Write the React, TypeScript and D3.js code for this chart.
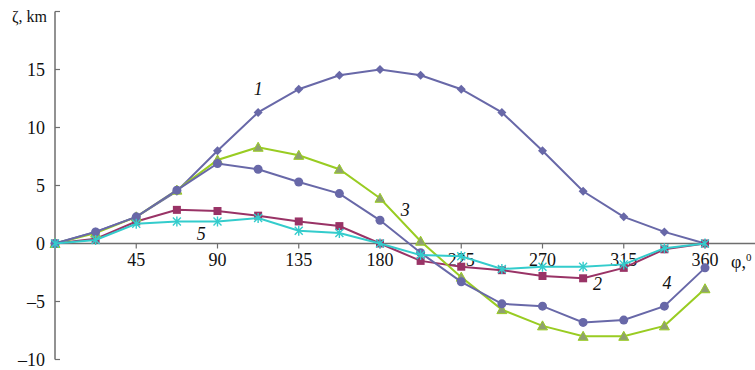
import React from "react";
import * as d3 from "d3";

const phi = [0, 22.5, 45, 67.5, 90, 112.5, 135, 157.5, 180, 202.5, 225, 247.5, 270, 292.5, 315, 337.5, 360];
const series1 = [0, 1.0, 2.3, 4.5, 8.0, 11.3, 13.3, 14.5, 15.0, 14.5, 13.3, 11.3, 8.0, 4.5, 2.3, 1.0, 0];
const series2 = [0, 0.4, 1.9, 2.9, 2.8, 2.4, 1.9, 1.5, 0, -1.5, -2.0, -2.3, -2.8, -3.0, -2.1, -0.5, 0];
const series3 = [0, 0.9, 2.3, 4.6, 7.2, 8.3, 7.6, 6.4, 3.9, 0.2, -2.9, -5.7, -7.1, -8.0, -8.0, -7.1, -3.9];
const series4 = [0, 1.0, 2.3, 4.6, 6.9, 6.4, 5.3, 4.3, 2.0, -0.8, -3.3, -5.2, -5.4, -6.8, -6.6, -5.4, -2.1];
const series5 = [0, 0.3, 1.7, 1.9, 1.9, 2.2, 1.1, 0.9, 0, -1.0, -1.1, -2.2, -2.0, -2.0, -1.8, -0.4, 0];
const xTicks = [45, 90, 135, 180, 225, 270, 315, 360];
const yTicks = [-10, -5, 0, 5, 10, 15, 20];
const yLabels = [-10, -5, 0, 5, 10, 15];

const curveLabels = [
  { t: "1", x: 112.5, y: 13.3 },
  { t: "2", x: 300.5, y: -3.5 },
  { t: "3", x: 194, y: 2.9 },
  { t: "4", x: 339, y: -3.4 },
  { t: "5", x: 81, y: 0.85 },
];

const W = 755;
const H = 370;
const x = d3.scaleLinear().domain([0, 360]).range([55, 705]);
const y = d3.scaleLinear().domain([-10, 20]).range([359.5, 11.5]);

const line = (vals: number[]) =>
  d3.line<number>().x((_, i) => x(phi[i])).y((v) => y(v))(vals) as string;

const serif = "Liberation Serif, Times New Roman, Times, serif";

function Marker({ kind, cx, cy, color, fill }: any) {
  if (kind === "diamond") {
    const r = 4.5;
    return <path d={`M${cx},${cy - r}L${cx + r},${cy}L${cx},${cy + r}L${cx - r},${cy}Z`} fill={color} />;
  }
  if (kind === "square") {
    return <rect x={cx - 4} y={cy - 4} width={8} height={8} fill={color} />;
  }
  if (kind === "circle") {
    return <circle cx={cx} cy={cy} r={4.5} fill={color} />;
  }
  if (kind === "triangle") {
    const r = 5;
    return (
      <path
        d={`M${cx},${cy - r}L${cx + r},${cy + r * 0.8}L${cx - r},${cy + r * 0.8}Z`}
        fill={fill}
        stroke={color}
        strokeWidth={1}
      />
    );
  }
  const r = 4;
  return (
    <path
      d={`M${cx - r},${cy - r}L${cx + r},${cy + r}M${cx - r},${cy + r}L${cx + r},${cy - r}M${cx},${cy - r - 1}L${cx},${cy + r + 1}`}
      stroke={color}
      strokeWidth={1.4}
      fill="none"
    />
  );
}

const seriesDefs = [
  { vals: series1, color: "#6868A8", kind: "diamond", fill: "" },
  { vals: series2, color: "#993366", kind: "square", fill: "" },
  { vals: series3, color: "#99CC22", kind: "triangle", fill: "#8FA070" },
  { vals: series4, color: "#6868A8", kind: "circle", fill: "" },
  { vals: series5, color: "#33CCCC", kind: "star", fill: "" },
];

export default function App() {
  const axisColor = "#6E6E6E";
  return (
    <div style={{ position: "fixed", left: 0, top: 0 }}>
      <svg width={W} height={H} style={{ display: "block", background: "#fff" }}>
        <line x1={55} x2={755} y1={y(0)} y2={y(0)} stroke={axisColor} strokeWidth={1.5} />
        <line x1={55} x2={55} y1={y(20)} y2={y(-10)} stroke={axisColor} strokeWidth={1.5} />
        {yTicks.map((t) => (
          <line key={t} x1={55} x2={60} y1={y(t)} y2={y(t)} stroke={axisColor} strokeWidth={1.2} />
        ))}
        {xTicks.map((t) => (
          <line key={t} x1={x(t)} x2={x(t)} y1={y(0)} y2={y(0) + 5} stroke={axisColor} strokeWidth={1.2} />
        ))}
        {yLabels.map((t) => (
          <text
            key={t}
            x={45}
            y={y(t) + 6}
            textAnchor="end"
            fontFamily={serif}
            fontSize={18}
            fill="#111"
          >
            {t < 0 ? "\u2013" + Math.abs(t) : t}
          </text>
        ))}
        {xTicks.map((t) => (
          <text
            key={t}
            x={x(t)}
            y={y(0) + 22}
            textAnchor="middle"
            fontFamily={serif}
            fontSize={18}
            fill="#111"
          >
            {t}
          </text>
        ))}
        <text x={47} y={22} textAnchor="end" fontFamily={serif} fontSize={16} fill="#111">
          ζ, km
        </text>
        <text x={731} y={y(0) + 24} fontFamily={serif} fontSize={18} fill="#111">
          φ,<tspan dy={-7} fontSize={11}>0</tspan>
        </text>
        {seriesDefs.map((s, si) => (
          <g key={si}>
            <path d={line(s.vals)} fill="none" stroke={s.color} strokeWidth={2} />
            {s.vals.map((v, i) => (
              <Marker key={i} kind={s.kind} cx={x(phi[i])} cy={y(v)} color={s.color} fill={s.fill} />
            ))}
          </g>
        ))}
        {curveLabels.map((l) => (
          <text
            key={l.t}
            x={x(l.x)}
            y={y(l.y) + 6}
            textAnchor="middle"
            fontFamily={serif}
            fontStyle="italic"
            fontSize={18}
            fill="#111"
          >
            {l.t}
          </text>
        ))}
      </svg>
    </div>
  );
}
